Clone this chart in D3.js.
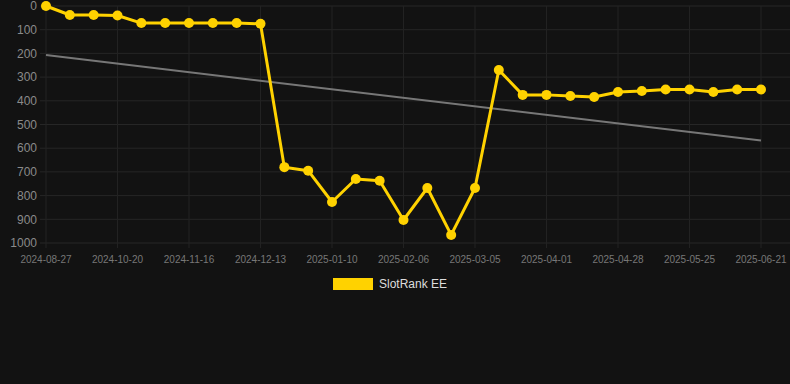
<!DOCTYPE html>
<html>
<head>
<meta charset="utf-8">
<script src="https://cdn.jsdelivr.net/npm/d3@7"></script>
<style>
  html, body { margin: 0; padding: 0; background: #121212; }
  svg { display: block; font-family: "Liberation Sans", Arial, sans-serif; }
</style>
</head>
<body>
<div class="chart"></div>
<script>
// category dates (x axis), one per point
const dates = [
  '2024-08-27','2024-09-14','2024-10-02','2024-10-20','2024-10-29','2024-11-07',
  '2024-11-16','2024-11-25','2024-12-04','2024-12-13','2024-12-22','2025-01-01',
  '2025-01-10','2025-01-19','2025-01-28','2025-02-06','2025-02-15','2025-02-24',
  '2025-03-05','2025-03-14','2025-03-23','2025-04-01','2025-04-10','2025-04-19',
  '2025-04-28','2025-05-07','2025-05-16','2025-05-25','2025-06-03','2025-06-12',
  '2025-06-21'
];
// rank values
const ranks = [
  0, 38, 38, 40, 72, 72, 72, 72, 72, 75,
  680, 695, 827, 730, 737, 903, 768, 966, 768, 270,
  375, 375, 380, 384, 363, 359, 352, 352, 363, 352,
  352
];
// trend line end values (first and last date)
const trend = [207, 568];
const yTicks = [0, 100, 200, 300, 400, 500, 600, 700, 800, 900, 1000];
const seriesName = 'SlotRank EE';

var width = 790, height = 384;
var svg = d3.select(".chart").append("svg")
  .attr("width", width)
  .attr("height", height);

svg.append("rect").attr("width", width).attr("height", height).attr("fill", "#121212");

var x = d3.scalePoint().domain(dates).range([46, 761]);
var y = d3.scaleLinear().domain([0, 1000]).range([6, 243]);

var xTicks = dates.filter((d, i) => i % 3 === 0);

// grid
svg.append("g").selectAll("line")
  .data(yTicks).enter().append("line")
  .attr("x1", 40).attr("x2", 790)
  .attr("y1", d => y(d)).attr("y2", d => y(d))
  .attr("stroke", "#262626").attr("stroke-width", 1);

svg.append("g").selectAll("line")
  .data(xTicks).enter().append("line")
  .attr("x1", d => x(d)).attr("x2", d => x(d))
  .attr("y1", y(0)).attr("y2", y(1000) + 5)
  .attr("stroke", "#222").attr("stroke-width", 1);

// y labels
svg.append("g").selectAll("text")
  .data(yTicks).enter().append("text")
  .attr("x", 37).attr("y", d => y(d))
  .attr("dy", "0.35em")
  .attr("text-anchor", "end")
  .attr("fill", "#8a8a8a")
  .style("font-size", "12px")
  .text(d => d);

// x labels
svg.append("g").selectAll("text")
  .data(xTicks).enter().append("text")
  .attr("x", d => x(d)).attr("y", 259)
  .attr("dy", "0.35em")
  .attr("text-anchor", "middle")
  .attr("fill", "#777")
  .style("font-size", "10px")
  .text(d => d);

// trend
svg.append("line")
  .attr("x1", x(dates[0])).attr("y1", y(trend[0]))
  .attr("x2", x(dates[dates.length - 1])).attr("y2", y(trend[1]))
  .attr("stroke", "#777").attr("stroke-width", 2);

// series
var line = d3.line().x((d, i) => x(dates[i])).y(d => y(d));
svg.append("path")
  .datum(ranks)
  .attr("d", line)
  .attr("fill", "none")
  .attr("stroke", "#ffd200")
  .attr("stroke-width", 3)
  .attr("stroke-linejoin", "round");

svg.append("g").selectAll("circle")
  .data(ranks).enter().append("circle")
  .attr("cx", (d, i) => x(dates[i]))
  .attr("cy", d => y(d))
  .attr("r", 5)
  .attr("fill", "#ffd200");

// legend
svg.append("rect")
  .attr("x", 333).attr("y", 278)
  .attr("width", 40).attr("height", 12)
  .attr("fill", "#ffd200");
svg.append("text")
  .attr("x", 379).attr("y", 284)
  .attr("dy", "0.35em")
  .attr("fill", "#ddd")
  .style("font-size", "12px")
  .text(seriesName);
</script>
</body>
</html>
